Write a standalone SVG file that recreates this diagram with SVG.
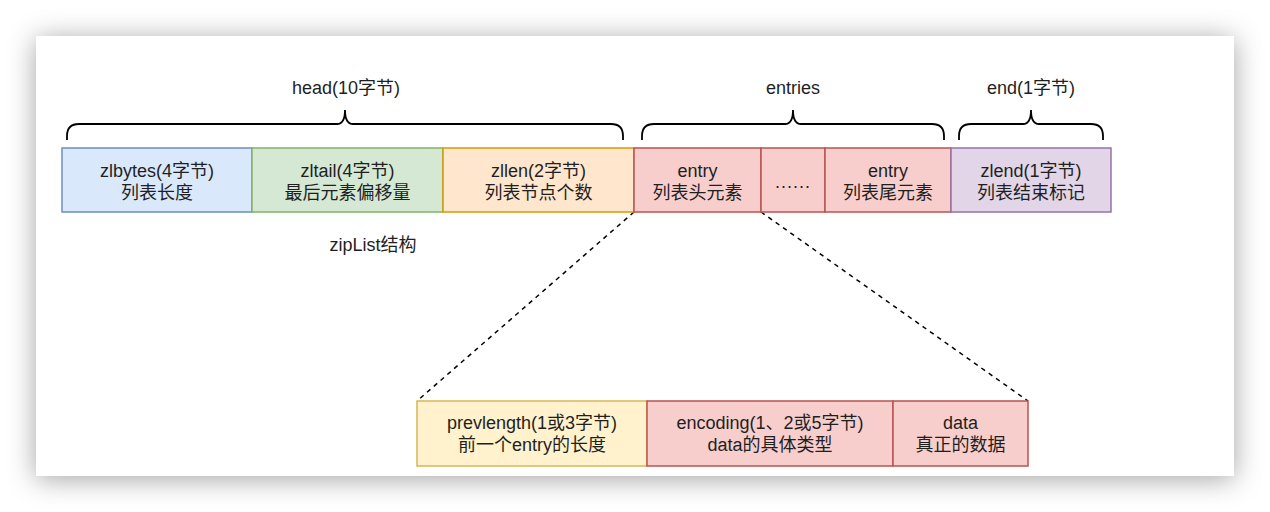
<svg xmlns="http://www.w3.org/2000/svg" width="1270" height="512" viewBox="0 0 1270 512">
<style>
text{font-family:"Liberation Sans","Noto Sans CJK SC",sans-serif;font-size:18px;fill:#1f1f1f;text-anchor:middle}
.box{stroke-width:1.5}
.blue{fill:#dae8fc;stroke:#6c8ebf}
.green{fill:#d5e8d4;stroke:#82b366}
.orange{fill:#ffe6cc;stroke:#d79b00}
.red{fill:#f8cecc;stroke:#b85450}
.purple{fill:#e1d5e7;stroke:#9673a6}
.yellow{fill:#fff2cc;stroke:#d6b656}
.brace{fill:none;stroke:#000;stroke-width:1.8}
.dash{fill:none;stroke:#000;stroke-width:1.5;stroke-dasharray:4.5 4.5}
</style>
<defs>
<filter id="sh" x="-10%" y="-20%" width="120%" height="140%">
<feDropShadow dx="0" dy="3" stdDeviation="14" flood-color="#000" flood-opacity="0.36"/>
</filter>
</defs>
<rect width="1270" height="512" fill="#fff"/>
<rect x="36" y="36" width="1198" height="440" fill="#fff" filter="url(#sh)"/>
<g id="braces">
<path class="brace" d="M67,140 L67,136 Q67,124 79,124 L337,124 Q345,124 345,110 Q345,124 353,124 L611,124 Q623,124 623,136 L623,140"/>
<path class="brace" d="M642,140 L642,136 Q642,124 654,124 L785,124 Q793,124 793,110 Q793,124 801,124 L932,124 Q944,124 944,136 L944,140"/>
<path class="brace" d="M959,140 L959,136 Q959,124 971,124 L1023,124 Q1031,124 1031,110 Q1031,124 1039,124 L1091,124 Q1103,124 1103,136 L1103,140"/>
</g>
<g id="labels">
<text x="346" y="94">head(10字节)</text>
<text x="793" y="94">entries</text>
<text x="1031" y="94">end(1字节)</text>
<text x="373" y="251">zipList结构</text>
</g>
<g id="connectors">
<line class="dash" x1="634" y1="212" x2="417" y2="401"/>
<line class="dash" x1="761" y1="212" x2="1028" y2="401"/>
</g>
<g id="zlbytes"><rect class="box blue" x="62" y="148" width="190" height="64"/><text x="157" y="177">zlbytes(4字节)</text><text x="157" y="199">列表长度</text></g>
<g id="zltail"><rect class="box green" x="252" y="148" width="191" height="64"/><text x="347.5" y="177">zltail(4字节)</text><text x="347.5" y="199">最后元素偏移量</text></g>
<g id="zllen"><rect class="box orange" x="443" y="148" width="191" height="64"/><text x="538.5" y="177">zllen(2字节)</text><text x="538.5" y="199">列表节点个数</text></g>
<g id="entry-head"><rect class="box red" x="634" y="148" width="127" height="64"/><text x="697.5" y="177">entry</text><text x="697.5" y="199">列表头元素</text></g>
<g id="entry-dots"><rect class="box red" x="761" y="148" width="64" height="64"/><text x="793" y="188" letter-spacing="1">......</text></g>
<g id="entry-tail"><rect class="box red" x="825" y="148" width="126" height="64"/><text x="888" y="177">entry</text><text x="888" y="199">列表尾元素</text></g>
<g id="zlend"><rect class="box purple" x="951" y="148" width="160" height="64"/><text x="1031" y="177">zlend(1字节)</text><text x="1031" y="199">列表结束标记</text></g>
<g id="prevlength"><rect class="box yellow" x="417" y="401" width="230" height="65"/><text x="532" y="429">prevlength(1或3字节)</text><text x="532" y="451">前一个entry的长度</text></g>
<g id="encoding"><rect class="box red" x="647" y="401" width="246" height="65"/><text x="770" y="429">encoding(1、2或5字节)</text><text x="770" y="451">data的具体类型</text></g>
<g id="data"><rect class="box red" x="893" y="401" width="135" height="65"/><text x="960.5" y="429">data</text><text x="960.5" y="451">真正的数据</text></g>
</svg>
